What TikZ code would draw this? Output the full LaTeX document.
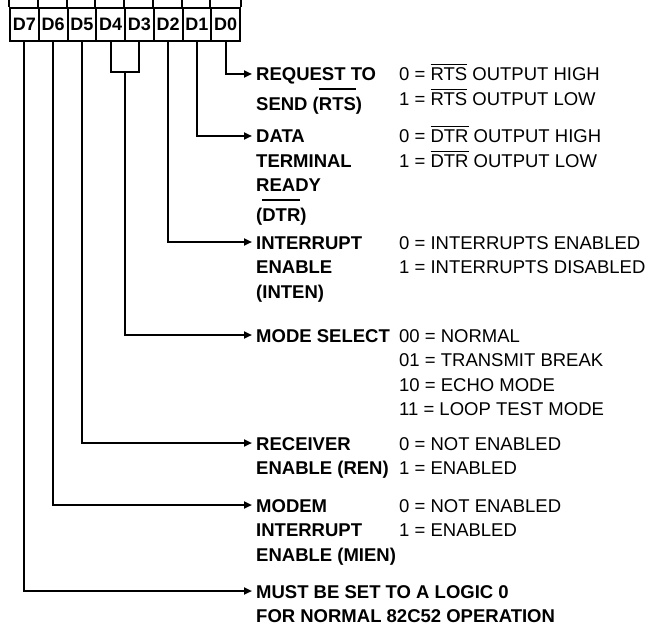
\documentclass[tikz,border=0pt]{standalone}
\usepackage{fontspec}
\setmainfont{Liberation Sans}
\usetikzlibrary{arrows.meta}
\newlength\ovw
\newcommand\ovr[2]{\settowidth\ovw{#2}\rlap{\raisebox{#1}{\rule{\ovw}{1.2pt}}}#2}
\newcommand\ovlo[1]{\ovr{15.5pt}{#1}}
\newcommand\ovhi[1]{\ovr{20.5pt}{#1}}
\newcommand\blk[1]{\begin{tabular}[t]{@{}l@{}}#1\end{tabular}}
\begin{document}
\begin{tikzpicture}[x=1pt,y=-1pt,
  cell/.style={draw,line width=2pt,minimum width=28.75pt,minimum height=33pt,inner sep=0pt,
    font=\fontsize{18}{20}\selectfont\bfseries},
  wire/.style={line width=2pt},
  arr/.style={wire,-{Triangle[length=8pt,width=7pt]}},
  lab/.style={anchor=base west,inner sep=0pt,font=\fontsize{18.5}{24.5}\selectfont\bfseries},
  val/.style={anchor=base west,inner sep=0pt,font=\fontsize{18.5}{24.5}\selectfont}]
\useasboundingbox (0,0) rectangle (647,628);
% register cells
\foreach \n [count=\i from 0] in {7,6,5,4,3,2,1,0}{
  \node[cell] (d\n) at ({10+28.75*(\i+0.5)},24.5) {D\n};
}
% ticks above the register
\foreach \n in {7,6,5,4,3,2,1,0}{
  \draw[wire] (d\n.north west) -- ++(0,-8.5);
}
\draw[wire] (d0.north east) -- ++(0,-8.5);
% arrow tips
\coordinate (t0) at (252,74);
\coordinate (t1) at (252,136);
\coordinate (t2) at (252,242);
\coordinate (t43) at (252,335);
\coordinate (t5) at (252,443);
\coordinate (t6) at (252,505);
\coordinate (t7) at (252,591);
% labels
\node[lab] (l0) at (256,81) {\blk{REQUEST TO\\SEND (\ovhi{RTS})}};
\node[val] (v0) at (399,81) {\blk{0 = \ovlo{RTS} OUTPUT HIGH\\1 = \ovlo{RTS} OUTPUT LOW}};
\node[lab] (l1) at (256,143) {\blk{DATA\\TERMINAL\\READY\\(\ovhi{DTR})}};
\node[val] (v1) at (399,143) {\blk{0 = \ovlo{DTR} OUTPUT HIGH\\1 = \ovlo{DTR} OUTPUT LOW}};
\node[lab] (l2) at (256,249) {\blk{INTERRUPT\\ENABLE\\(INTEN)}};
\node[val] (v2) at (399,249) {\blk{0 = INTERRUPTS ENABLED\\1 = INTERRUPTS DISABLED}};
\node[lab] (l43) at (256,342) {\blk{MODE SELECT}};
\node[val] (v43) at (399,342) {\blk{00 = NORMAL\\01 = TRANSMIT BREAK\\10 = ECHO MODE\\11 = LOOP TEST MODE}};
\node[lab] (l5) at (256,450) {\blk{RECEIVER\\ENABLE (REN)}};
\node[val] (v5) at (399,450) {\blk{0 = NOT ENABLED\\1 = ENABLED}};
\node[lab] (l6) at (256,512) {\blk{MODEM\\INTERRUPT\\ENABLE (MIEN)}};
\node[val] (v6) at (399,512) {\blk{0 = NOT ENABLED\\1 = ENABLED}};
\node[lab] (l7) at (256,598) {\blk{MUST BE SET TO A LOGIC 0\\FOR NORMAL 82C52 OPERATION}};
% connectors
\draw[arr] (d0.south) |- (t0);
\draw[arr] (d1.south) |- (t1);
\draw[arr] (d2.south) |- (t2);
\coordinate (m43) at (125,72);
\draw[wire] (d4.south) |- (m43) -| (d3.south);
\draw[arr] (m43) |- (t43);
\draw[arr] (d5.south) |- (t5);
\draw[arr] (d6.south) |- (t6);
\draw[arr] (d7.south) |- (t7);
\end{tikzpicture}
\end{document}
